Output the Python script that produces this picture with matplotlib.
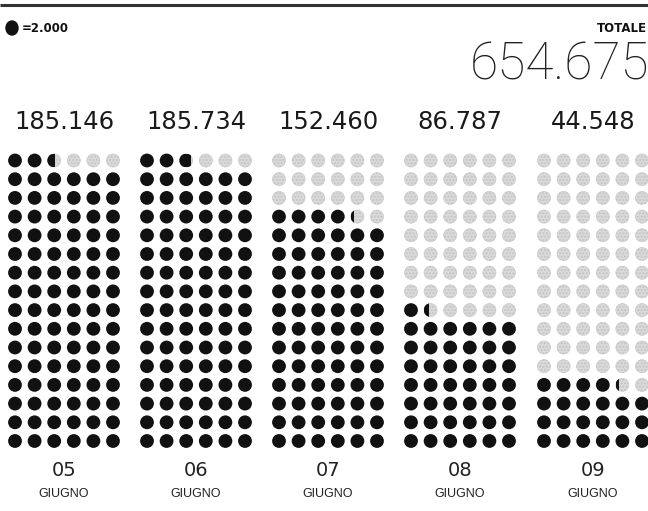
import matplotlib
matplotlib.use('Agg')
import matplotlib.pyplot as plt
from matplotlib.patches import Circle, Ellipse, Rectangle

days = ['05', '06', '07', '08', '09']
month = 'GIUGNO'
values = [185146, 185734, 152460, 86787, 44548]
value_labels = ['185.146', '185.734', '152.460', '86.787', '44.548']
total_label = '654.675'
unit = 2000
unit_label = '=2.000'

n_cols = 6
n_rows = 16

fig = plt.figure(figsize=(6.48, 5.11), dpi=100)
ax = fig.add_axes([0, 0, 1, 1])
ax.set_xlim(0, 648)
ax.set_ylim(511, 0)
ax.axis('off')

black = '#111111'
grey = '#dadada'
r = 6.9
dx = 19.6
dy = 18.7
centers = [64, 196, 328, 460, 593]
y_bottom = 441

# top rule
ax.plot([0, 648], [5, 5], color='#333333', lw=2.2, solid_capstyle='butt')

# legend and total
ax.add_patch(Ellipse((12, 28), 12, 14, color=black))
ax.text(22, 28, unit_label, fontsize=8.5, fontweight='bold', family='DejaVu Sans',
        ha='left', va='center', color=black)
ax.text(647, 28, 'TOTALE', fontsize=8.5, fontweight='bold', family='DejaVu Sans',
        ha='right', va='center', color=black)
ax.text(649, 80, total_label, fontsize=37, fontweight='light', family='Roboto',
        ha='right', va='baseline', color='#222222')

for cx, day, v, lab in zip(centers, days, values, value_labels):
    ax.text(cx, 122, lab, fontsize=17.5, family='DejaVu Sans', ha='center',
            va='center', color='#1a1a1a')
    full = v // unit
    frac = v / unit - full
    x0 = cx - dx * (n_cols - 1) / 2
    for k in range(n_cols * n_rows):
        row = k // n_cols
        col = k % n_cols
        x = x0 + col * dx
        y = y_bottom - row * dy
        if k < full:
            ax.add_patch(Circle((x, y), r, color=black, lw=0))
        else:
            ax.add_patch(Circle((x, y), r * 0.95, facecolor=grey, edgecolor='#c4c4c4',
                                lw=0.4, hatch='.....'))
            if k == full and frac > 0:
                part = Circle((x, y), r, color=black, lw=0)
                ax.add_patch(part)
                clip = Rectangle((x - r, y - r), 2 * r * frac, 2 * r,
                                 transform=ax.transData)
                part.set_clip_path(clip)
    ax.text(cx, 470, day, fontsize=14, family='DejaVu Sans', ha='center',
            va='center', color='#222222')
    ax.text(cx, 494, month, fontsize=9, family='Liberation Sans', ha='center',
            va='center', color='#222222')

fig.savefig('out.png', dpi=100)
